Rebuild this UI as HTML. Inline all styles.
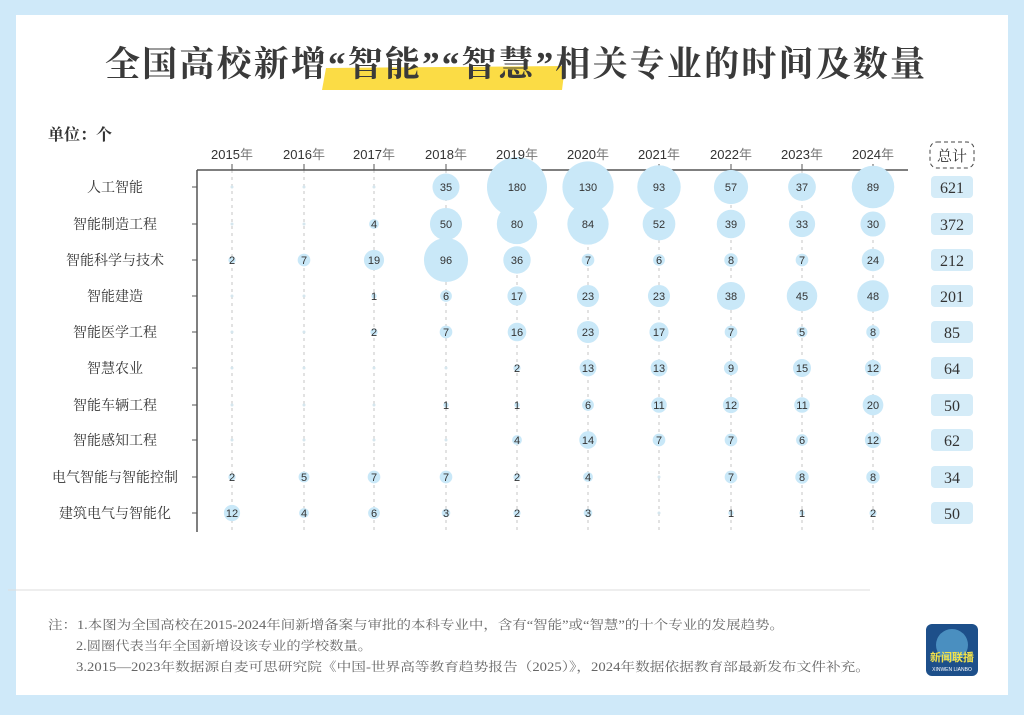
<!DOCTYPE html>
<html><head><meta charset="utf-8"><style>
body{margin:0;width:1024px;height:710px;overflow:hidden;background:#cfe9f9}
</style></head><body>
<svg width="1024" height="710" xmlns="http://www.w3.org/2000/svg">
<rect x="0" y="0" width="1024" height="710" fill="#cfe9f9"/>
<rect x="16" y="15" width="992" height="680" fill="#ffffff"/>
<polygon points="326,68 565,66 562,90 322,90" fill="#fbdc45"/>
<text x="105" y="76" textLength="820" lengthAdjust="spacing" font-family="'Liberation Serif','Noto Serif CJK SC',serif" font-weight="bold" font-size="35" fill="#3a3a3a">全国高校新增“智能”“智慧”相关专业的时间及数量</text>
<text x="48" y="140" font-family="'Liberation Serif','Noto Serif CJK SC',serif" font-weight="bold" font-size="16" fill="#333">单位：个</text>
<g id="c"></g>
<rect x="930" y="142" width="44" height="26" rx="7" fill="none" stroke="#444" stroke-dasharray="4,3"/>
<text x="952" y="161" text-anchor="middle" font-family="'Liberation Serif','Noto Serif CJK SC',serif" font-size="15" fill="#333">总计</text>
<line x1="8" y1="590" x2="870" y2="590" stroke="#ddd"/>
<g font-family="'Liberation Serif','Noto Serif CJK SC',serif" font-size="12.5" fill="#666">
<text x="48" y="629" textLength="736" lengthAdjust="spacingAndGlyphs">注：1.本图为全国高校在2015-2024年间新增备案与审批的本科专业中，含有“智能”或“智慧”的十个专业的发展趋势。</text>
<text x="76" y="650" textLength="296" lengthAdjust="spacingAndGlyphs">2.圆圈代表当年全国新增设该专业的学校数量。</text>
<text x="76" y="671" textLength="794" lengthAdjust="spacingAndGlyphs">3.2015—2023年数据源自麦可思研究院《中国-世界高等教育趋势报告（2025）》，2024年数据依据教育部最新发布文件补充。</text>
</g>
<rect x="926" y="624" width="52" height="52" rx="6" fill="#1d4f8a"/>
<circle cx="952" cy="645" r="16" fill="#4a8fc0"/>
<text x="952" y="661" text-anchor="middle" font-family="'Liberation Sans','Noto Sans CJK SC',sans-serif" font-weight="bold" font-size="11" fill="#f3e34a">新闻联播</text>
<text x="952" y="671" text-anchor="middle" font-family="'Liberation Sans',sans-serif" font-size="5" fill="#fff">XINWEN LIANBO</text>
</svg>
<script>
const xs=[232,304,374,446,517,588,659,731,802,873];
const ys=[187,224,260,296,332,368,405,440,477,513];
const names=["人工智能","智能制造工程","智能科学与技术","智能建造","智能医学工程","智慧农业","智能车辆工程","智能感知工程","电气智能与智能控制","建筑电气与智能化"];
const tot=[621,372,212,201,85,64,50,62,34,50];
const d=[[0,0,0,35,180,130,93,57,37,89],[0,0,4,50,80,84,52,39,33,30],[2,7,19,96,36,7,6,8,7,24],[0,0,1,6,17,23,23,38,45,48],[0,0,2,7,16,23,17,7,5,8],[0,0,0,0,2,13,13,9,15,12],[0,0,0,1,1,6,11,12,11,20],[0,0,0,0,4,14,7,7,6,12],[2,5,7,7,2,4,0,7,8,8],[12,4,6,3,2,3,0,1,1,2]];
let s='',b='',t='';
xs.forEach((x,i)=>{s+=`<line x1="${x}" y1="170" x2="${x}" y2="532" stroke="#c4c4c4" stroke-dasharray="3,4"/>`;});
s+=`<line x1="197" y1="170" x2="908" y2="170" stroke="#555" stroke-width="1.5"/><line x1="197" y1="170" x2="197" y2="532" stroke="#555" stroke-width="1.5"/>`;
xs.forEach((x,i)=>{s+=`<line x1="${x}" y1="164" x2="${x}" y2="170" stroke="#555"/>`;t+=`<text x="${x}" y="159" text-anchor="middle" font-family="'Liberation Sans','Noto Sans CJK SC',sans-serif" font-size="13" fill="#333">${2015+i}<tspan fill="#777">年</tspan></text>`;});
ys.forEach((y,j)=>{s+=`<line x1="192" y1="${y}" x2="197" y2="${y}" stroke="#555"/><text x="115" y="${y+5}" text-anchor="middle" font-family="'Liberation Serif','Noto Serif CJK SC',serif" font-size="14" fill="#333">${names[j]}</text>`;
 s+=`<rect x="931" y="${y-11}" width="42" height="22" rx="4" fill="#d5ecf8"/><text x="952" y="${y+6}" text-anchor="middle" font-family="'Liberation Serif',serif" font-size="16" fill="#333">${tot[j]}</text>`;
 xs.forEach((x,i)=>{const v=d[j][i];if(v>0){const r=2.2*Math.sqrt(v)+0.5;b+=`<circle cx="${x}" cy="${y}" r="${r}" fill="#c9e8f8"/>`;t+=`<text x="${x}" y="${y+4}" text-anchor="middle" font-family="'Liberation Sans',sans-serif" font-size="11" fill="#333">${v}</text>`;}else{b+=`<circle cx="${x}" cy="${y}" r="1.5" fill="#d5e6ee"/>`;}});});
document.getElementById('c').innerHTML=s+b+t;
</script>
</body></html>
